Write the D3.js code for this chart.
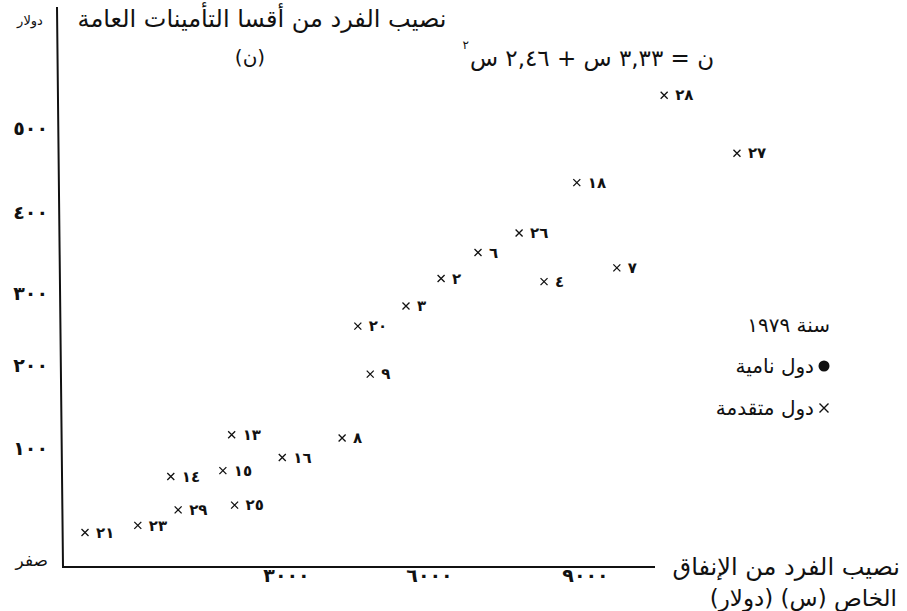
<!DOCTYPE html>
<html lang="ar">
<head>
<meta charset="utf-8">
<script src="https://cdn.jsdelivr.net/npm/d3@7"></script>
<style>
  body { margin: 0; background: #fff; }
  svg text { font-family: "DejaVu Sans", sans-serif; fill: #111; }
  .rtl { direction: rtl; unicode-bidi: embed; }
</style>
</head>
<body>
<svg id="chart" width="907" height="611"></svg>
<script>
// Advanced countries, 1979: private consumption per head (س, $) against
// public insurance contributions per head (ن, $)
const countryLabels = ["٢٨", "٢٧", "١٨", "٢٦", "٦", "٢", "٤", "٧", "٣", "٢٠",
                       "٩", "٨", "١٣", "١٦", "١٥", "١٤", "٢٥", "٢٩", "٢٣", "٢١"];
const spending  = [10580, 11980, 8900, 7790, 7000, 6290, 8270, 9670, 5580, 4570,
                   4830, 4240, 2300, 2990, 2180, 1470, 2340, 1570, 1020, 300];
const insurance = [539, 470, 435, 374, 350, 318, 314, 331, 282, 254,
                   189, 112, 116, 92, 81, 76, 52, 48, 35, 29];

const xTickValues = [3000, 6000, 9000];
const xTickLabels = ["٣٠٠٠", "٦٠٠٠", "٩٠٠٠"];
const yTickValues = [0, 100, 200, 300, 400, 500];
const yTickLabels = ["صفر", "١٠٠", "٢٠٠", "٣٠٠", "٤٠٠", "٥٠٠"];

const svg = d3.select("#chart");

// The printed grid is hand-spaced, so both scales are piecewise linear
const x = d3.scaleLinear()
  .domain([0, 3000, 6000, 9000])
  .range([63, 283, 426, 582]);
const y = d3.scaleLinear()
  .domain([0, 100, 200, 300, 400, 500])
  .range([567, 448, 365, 293, 212, 128]);

// Axis lines
svg.append("path")
  .attr("d", `M57,7 L${x(0)},${y(0)} L655,${y(0)}`)
  .attr("fill", "none")
  .attr("stroke", "#111")
  .attr("stroke-width", 2);

// Y axis tick labels
const yAxis = d3.axisLeft(y)
  .tickValues(yTickValues)
  .tickFormat((d, i) => yTickLabels[i])
  .tickSize(0)
  .tickPadding(13);
const gy = svg.append("g").attr("transform", `translate(${x(0) - 2},0)`).call(yAxis);
gy.select(".domain").remove();
gy.selectAll("text")
  .style("font-family", "DejaVu Sans, sans-serif")
  .style("font-size", (d) => d === 0 ? "17px" : "19px")
  .style("font-weight", (d) => d === 0 ? "normal" : "bold")
  .style("letter-spacing", (d) => d === 0 ? "0px" : "5px")
  .attr("dy", (d) => d === 0 ? "-0.1em" : "0.32em");

// X axis tick labels
const xAxis = d3.axisBottom(x)
  .tickValues(xTickValues)
  .tickFormat((d, i) => xTickLabels[i])
  .tickSize(0)
  .tickPadding(1);
const gx = svg.append("g").attr("transform", `translate(3,${y(0)})`).call(xAxis);
gx.select(".domain").remove();
gx.selectAll("text")
  .style("font-family", "DejaVu Sans, sans-serif")
  .style("font-size", "19px")
  .style("font-weight", "bold")
  .style("letter-spacing", "6px");

// Country markers and their numbers
const pts = countryLabels.map((lab, i) => ({ lab, sx: spending[i], sy: insurance[i] }));
const g = svg.append("g");
g.selectAll("path.mark")
  .data(pts)
  .join("path")
  .attr("class", "mark")
  .attr("transform", (d) => `translate(${x(d.sx)},${y(d.sy)})`)
  .attr("d", "M-3.5,-3.5L3.5,3.5M3.5,-3.5L-3.5,3.5")
  .attr("stroke", "#111")
  .attr("stroke-width", 1.3);
g.selectAll("text.lab")
  .data(pts)
  .join("text")
  .attr("class", "lab")
  .attr("x", (d) => x(d.sx) + 11)
  .attr("y", (d) => y(d.sy))
  .attr("dy", "0.35em")
  .style("font-size", "15px")
  .style("font-weight", "bold")
  .style("letter-spacing", "3px")
  .text((d) => d.lab);

// Titles
svg.append("text")
  .attr("class", "rtl")
  .attr("x", 262).attr("y", 19).attr("dy", "0.35em")
  .attr("text-anchor", "middle")
  .style("font-size", "24px")
  .text("نصيب الفرد من أقسا التأمينات العامة");
svg.append("text")
  .attr("class", "rtl")
  .attr("x", 30).attr("y", 20).attr("dy", "0.35em")
  .attr("text-anchor", "middle")
  .style("font-size", "13px")
  .text("دولار");
svg.append("text")
  .attr("class", "rtl")
  .attr("x", 250).attr("y", 57).attr("dy", "0.35em")
  .attr("text-anchor", "middle")
  .style("font-size", "20px")
  .text("(ن)");

// Fitted equation with squared term
const eq = svg.append("text")
  .attr("class", "rtl")
  .attr("x", 592).attr("y", 58).attr("dy", "0.35em")
  .attr("text-anchor", "middle")
  .style("font-size", "23px")
  .style("letter-spacing", "5px")
  .text("ن = ٣,٣٣ س + ٢,٤٦ س");
const eb = eq.node().getBBox();
svg.append("text")
  .attr("x", eb.x - 1).attr("y", eb.y + 4)
  .attr("text-anchor", "end")
  .style("font-size", "12px")
  .text("٢");

// X axis title, two lines
svg.append("text")
  .attr("class", "rtl")
  .attr("x", 900).attr("y", 567).attr("dy", "0.35em")
  .attr("text-anchor", "start")
  .style("font-size", "24px")
  .text("نصيب الفرد من الإنفاق");
svg.append("text")
  .attr("class", "rtl")
  .attr("x", 897).attr("y", 598).attr("dy", "0.35em")
  .attr("text-anchor", "start")
  .style("font-size", "23px")
  .text("الخاص (س) (دولار)");

// Legend
const legend = svg.append("g");
legend.append("text")
  .attr("class", "rtl")
  .attr("x", 830).attr("y", 325).attr("dy", "0.35em")
  .attr("text-anchor", "start")
  .style("font-size", "20px")
  .text("سنة ١٩٧٩");
legend.append("circle")
  .attr("cx", 824).attr("cy", 366).attr("r", 5.5)
  .attr("fill", "#111");
legend.append("text")
  .attr("class", "rtl")
  .attr("x", 814).attr("y", 366).attr("dy", "0.35em")
  .attr("text-anchor", "start")
  .style("font-size", "20px")
  .text("دول نامية");
legend.append("path")
  .attr("transform", "translate(824,408)")
  .attr("d", "M-4.5,-4.5L4.5,4.5M4.5,-4.5L-4.5,4.5")
  .attr("stroke", "#111")
  .attr("stroke-width", 1.4);
legend.append("text")
  .attr("class", "rtl")
  .attr("x", 814).attr("y", 408).attr("dy", "0.35em")
  .attr("text-anchor", "start")
  .style("font-size", "20px")
  .text("دول متقدمة");
</script>
</body>
</html>
